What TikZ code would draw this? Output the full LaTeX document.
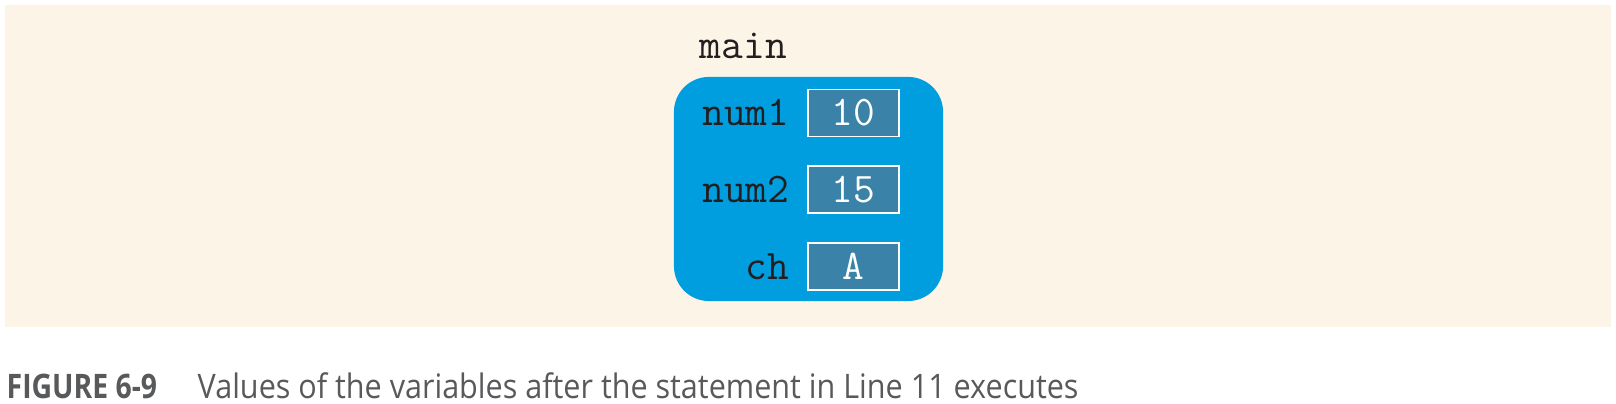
\documentclass[tikz,border=0pt]{standalone}
\usepackage{fontspec}
\newfontfamily\capfont[FakeStretch=0.905]{Open Sans}
\newfontfamily\capboldfont[FakeStretch=0.84]{Open Sans}
\usetikzlibrary{positioning}
\definecolor{paperbeige}{RGB}{253,244,232}
\definecolor{frameblue}{RGB}{0,157,223}
\definecolor{cellblue}{RGB}{58,130,167}
\definecolor{inkdark}{RGB}{35,31,32}
\definecolor{captiongray}{RGB}{88,89,91}

\begin{document}
\begin{tikzpicture}[
                x=0.01cm, y=0.01cm,
                node distance=0.28cm,
                frame/.style={rectangle, fill=frameblue, rounded corners=0.35cm, minimum width=2.69cm, minimum height=2.24cm, inner sep=0pt},
                cell/.style={rectangle, draw=white, line width=0.5pt, fill=cellblue, minimum width=0.91cm, minimum height=0.47cm, inner sep=0pt, text=white, font=\fontsize{12}{14}\ttfamily},
                varname/.style={inner sep=0pt, text=inkdark, font=\fontsize{12}{14}\ttfamily},
                caption/.style={inner sep=0pt, text=captiongray, font=\fontsize{9.6}{11}\capfont}
            ]
                \useasboundingbox (0,0) rectangle (1616,404);
                \fill[paperbeige] (5,77) rectangle (1611,399);

                \node [frame] (frame) at (808.5,215) {};
                \node [varname, anchor=base west] (main) at ([xshift=0.26cm, yshift=0.18cm]frame.north west) {main};

                \node [cell] (num1val) at (853.5,291) {10};
                \node [cell, below=of num1val] (num2val) {15};
                \node [cell, below=of num2val] (chval) {A};

                \node [varname, anchor=base east] (num1) at ([xshift=-0.17cm]num1val.base west) {num1};
                \node [varname, anchor=base east] (num2) at ([xshift=-0.17cm]num2val.base west) {num2};
                \node [varname, anchor=base east] (ch) at ([xshift=-0.17cm]chval.base west) {ch};

                \node [caption, anchor=base west] (figno) at (6,5) {\capboldfont\bfseries FIGURE 6-9};
                \node [caption, anchor=base west] (figtext) at (197,5) {Values of the variables after the statement in Line 11 executes};
            \end{tikzpicture}
\end{document}
